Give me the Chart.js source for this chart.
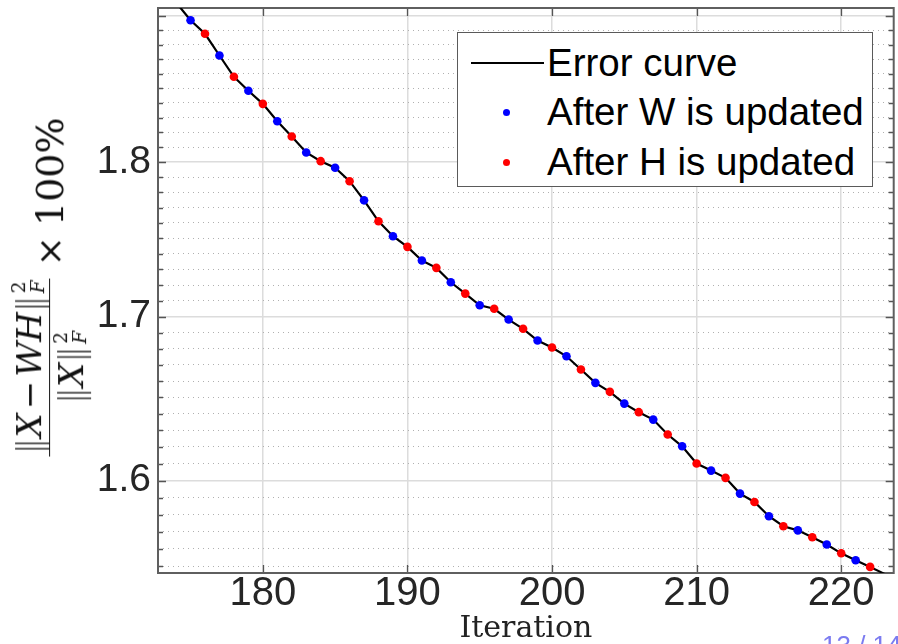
<!DOCTYPE html>
<html>
<head>
<meta charset="utf-8">
<script src="https://cdn.jsdelivr.net/npm/chart.js@4.4.0/dist/chart.umd.min.js"></script>
<style>
html,body{margin:0;padding:0;background:#fff;}
#wrap{position:relative;width:898px;height:644px;overflow:hidden;background:#fff;}
#c{position:absolute;left:0;top:0;}
#ytitle{position:absolute;left:50px;top:287px;transform:translate(-50%,-50%) rotate(-90deg);display:flex;align-items:center;white-space:nowrap;font-family:"DejaVu Serif",serif;color:#111;}
#ytitle i{font-style:italic;}
.frac{display:inline-flex;flex-direction:column;align-items:center;font-size:34px;}
.num,.den{display:flex;align-items:center;line-height:1;padding:0 2px;}
.bar{align-self:stretch;border-top:1.6px solid #111;margin:2px 0;}
.ss{display:inline-flex;flex-direction:column;font-size:0.55em;line-height:1;margin-left:2px;}
.op{margin:0 4px;}
.nb{font-family:"DejaVu Sans",sans-serif;font-weight:300;color:#333;}
.times{font-size:36px;margin:0 10px 0 12px;}
.pct{font-size:38px;}
#legend{position:absolute;left:457px;top:32px;width:414px;height:153px;border:1.5px solid #5a5a5a;background:#fff;font-family:"Liberation Sans",Arial,sans-serif;font-size:38.5px;color:#000;}
#legend .row{position:absolute;left:0;height:38px;display:flex;align-items:center;line-height:1;}
#legend .sym{position:absolute;left:13px;width:73px;height:38px;}
#legend .ln{position:absolute;left:0;top:18px;width:73px;height:2px;}
#legend .dot{position:absolute;left:32px;top:15.5px;width:7px;height:7px;border-radius:50%;}
#legend .txt{position:absolute;left:89px;white-space:nowrap;}
#page{position:absolute;left:822px;top:632px;font-family:"Liberation Sans",Arial,sans-serif;font-size:26px;line-height:1;color:#7b7bf0;white-space:nowrap;}
</style>
</head>
<body>
<div id="wrap">
  <canvas id="c" width="898" height="644"></canvas>
  <div id="ytitle">
    <span class="frac">
      <span class="num"><span class="nb">‖</span><i>X</i><span class="op">−</span><i>W</i><i>H</i><span class="nb">‖</span><span class="ss"><span>2</span><i>F</i></span></span>
      <span class="bar"></span>
      <span class="den"><span class="nb">‖</span><i>X</i><span class="nb">‖</span><span class="ss"><span>2</span><i>F</i></span></span>
    </span>
    <span class="times">×</span><span class="pct">100%</span>
  </div>
  <div id="legend"></div>
  <div id="page">13 / 14</div>
</div>
<script>
// ---- data ----
const iterations = [174,175,176,177,178,179,180,181,182,183,184,185,186,187,188,189,190,191,192,193,194,195,196,197,198,199,200,201,202,203,204,205,206,207,208,209,210,211,212,213,214,215,216,217,218,219,220,221,222,223];
const errorValues = [1.9096,1.8971,1.8876,1.8725,1.8578,1.8482,1.8393,1.8275,1.8172,1.8065,1.8007,1.7963,1.7874,1.7748,1.7611,1.7514,1.7445,1.7357,1.7310,1.7218,1.7146,1.7072,1.7050,1.6982,1.6924,1.6851,1.6807,1.6753,1.6671,1.6589,1.6534,1.6462,1.6410,1.6365,1.6275,1.6204,1.6101,1.6059,1.6016,1.5923,1.5874,1.5790,1.5732,1.5708,1.5668,1.5626,1.5575,1.5535,1.5497,1.5457];
const wIterations = [175,177,179,181,183,185,187,189,191,193,195,197,199,201,203,205,207,209,211,213,215,217,219,221];
const hIterations = [176,178,180,182,184,186,188,190,192,194,196,198,200,202,204,206,208,210,212,214,216,218,220,222];
const seriesLabels = ['Error curve','After W is updated','After H is updated'];
const seriesColors = ['#000000','#0000ff','#ff0000'];
const xTicks = [180,190,200,210,220];
const xTickLabels = ['180','190','200','210','220'];
const yMajorTicks = [1.6,1.7,1.8,1.9];
const yTickLabels = ['1.6','1.7','1.8',''];
const yMinorTicks = [1.55,1.56,1.57,1.58,1.59,1.6,1.61,1.62,1.63,1.64,1.65,1.66,1.67,1.68,1.69,1.7,1.71,1.72,1.73,1.74,1.75,1.76,1.77,1.78,1.79,1.8,1.81,1.82,1.83,1.84,1.85,1.86,1.87,1.88,1.89,1.9];
const xRange = [172.75, 223.63];
const yRange = [1.5462, 1.9057];
const xTitle = 'Iteration';

function valueAt(it){ return errorValues[iterations.indexOf(it)]; }

Chart.defaults.font.family = "'Liberation Sans', Arial, sans-serif";

const frameTicks = {
  id:'frameTicks',
  beforeDatasetsDraw(chart){
    const ctx = chart.ctx, ca = chart.chartArea;
    const ys = chart.scales.yMinor, xs = chart.scales.x;
    ctx.save();
    ctx.strokeStyle = '#555';
    ctx.lineWidth = 1.3;
    ctx.beginPath();
    ys.ticks.forEach(t => {
      const py = Math.round(ys.getPixelForValue(t.value)) + 0.5;
      const len = yMajorTicks.includes(t.value) ? 8 : 5;
      ctx.moveTo(ca.left, py); ctx.lineTo(ca.left + len, py);
      ctx.moveTo(ca.right, py); ctx.lineTo(ca.right - len, py);
    });
    xs.ticks.forEach(t => {
      const px = Math.round(xs.getPixelForValue(t.value)) + 0.5;
      ctx.moveTo(px, ca.bottom); ctx.lineTo(px, ca.bottom - 8);
      ctx.moveTo(px, ca.top); ctx.lineTo(px, ca.top + 8);
    });
    ctx.stroke();
    ctx.strokeStyle = '#5f5f5f';
    ctx.lineWidth = 2;
    ctx.strokeRect(ca.left, ca.top, ca.right - ca.left, ca.bottom - ca.top);
    ctx.restore();
  }
};

function noPad(s){ s.paddingTop = 0; s.paddingBottom = 0; s.paddingLeft = 0; s.paddingRight = 0; }

const chart = new Chart(document.getElementById('c'), {
  type:'line',
  data:{
    datasets:[
      {label:seriesLabels[0], data:iterations.map((x,i)=>({x:x, y:errorValues[i]})), borderColor:seriesColors[0], backgroundColor:seriesColors[0], borderWidth:2.2, pointRadius:0, tension:0, order:2, xAxisID:'x', yAxisID:'y'},
      {label:seriesLabels[1], data:wIterations.map(x=>({x:x, y:valueAt(x)})), showLine:false, pointRadius:4.3, pointBorderWidth:0, pointBackgroundColor:seriesColors[1], backgroundColor:seriesColors[1], borderColor:seriesColors[1], order:1, xAxisID:'x', yAxisID:'y'},
      {label:seriesLabels[2], data:hIterations.map(x=>({x:x, y:valueAt(x)})), showLine:false, pointRadius:4.3, pointBorderWidth:0, pointBackgroundColor:seriesColors[2], backgroundColor:seriesColors[2], borderColor:seriesColors[2], order:1, xAxisID:'x', yAxisID:'y'}
    ]
  },
  options:{
    responsive:false, animation:false, devicePixelRatio:1, events:[],
    layout:{padding:{top:8, right:1, left:0, bottom:0}},
    plugins:{legend:{display:false}, tooltip:{enabled:false}},
    scales:{
      x:{
        type:'linear', position:'bottom', min:xRange[0], max:xRange[1], bounds:'data',
        afterBuildTicks:s=>{ s.ticks = xTicks.map(v=>({value:v})); },
        afterFit:s=>{ s.height = 71; noPad(s); },
        ticks:{autoSkip:false, maxRotation:0, padding:1, color:'#262626', font:{size:40, lineHeight:1}, callback:(v,i)=>xTickLabels[i]},
        grid:{color:'#dcdcdc', lineWidth:1.5, drawTicks:false},
        border:{display:false},
        title:{display:true, text:xTitle, color:'#222', font:{family:"'DejaVu Serif', serif", size:30, lineHeight:1}, padding:{top:0, bottom:0}}
      },
      y:{
        type:'logarithmic', position:'left', min:yRange[0], max:yRange[1], bounds:'data',
        afterBuildTicks:s=>{ s.ticks = yMajorTicks.map(v=>({value:v})); },
        afterFit:s=>{ s.width = 158; noPad(s); },
        ticks:{autoSkip:false, padding:7, color:'#262626', font:{size:39, lineHeight:1}, callback:(v,i)=>yTickLabels[i]},
        grid:{color:'#dcdcdc', lineWidth:1.5, drawTicks:false},
        border:{display:false}
      },
      yMinor:{
        type:'logarithmic', position:'right', min:yRange[0], max:yRange[1], bounds:'data',
        afterBuildTicks:s=>{ s.ticks = yMinorTicks.map(v=>({value:v})); },
        afterFit:s=>{ s.width = 0; noPad(s); },
        ticks:{display:false},
        grid:{color:c=> (c.tick && yMajorTicks.includes(c.tick.value)) ? 'rgba(0,0,0,0)' : '#b0b0b0', lineWidth:1, drawTicks:false},
        border:{display:false, dash:[1,4]}
      }
    }
  },
  plugins:[frameTicks]
});

// HTML legend built from the chart's datasets
const leg = document.getElementById('legend');
const rowCenters = [30, 79.5, 129];
chart.data.datasets.forEach((ds, i) => {
  const row = document.createElement('div');
  row.className = 'row';
  row.style.top = (rowCenters[i] - 19) + 'px';
  row.style.width = '100%';
  const sym = document.createElement('span');
  sym.className = 'sym';
  const mark = document.createElement('span');
  mark.className = ds.showLine === false ? 'dot' : 'ln';
  mark.style.background = ds.backgroundColor;
  sym.appendChild(mark);
  const txt = document.createElement('span');
  txt.className = 'txt';
  txt.textContent = ds.label;
  row.appendChild(sym);
  row.appendChild(txt);
  leg.appendChild(row);
});
</script>
</body>
</html>
